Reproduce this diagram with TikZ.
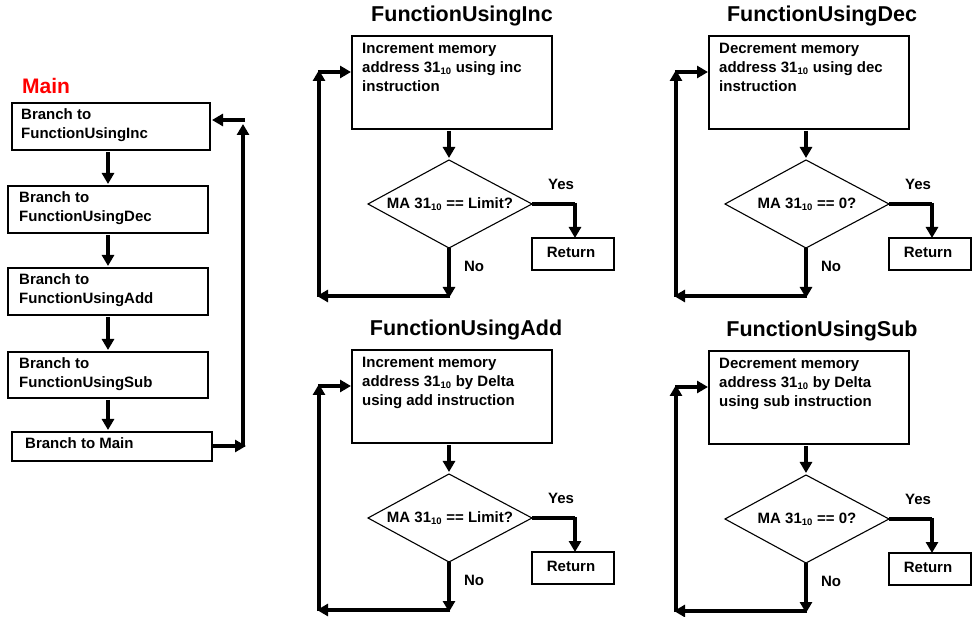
\documentclass[tikz,border=0pt]{standalone}
\usepackage{fontspec}
\setmainfont{Liberation Sans}
\usetikzlibrary{arrows.meta,shapes.geometric}
\begin{document}
\begin{tikzpicture}[x=1pt,y=-1pt,font=\bfseries\fontsize{15}{19}\selectfont,
  box/.style={draw,line width=1.1pt,inner sep=0pt},
  lbl/.style={anchor=north west,align=left,inner sep=0pt},
  arr/.style={line width=3.4pt,-{Triangle[length=11pt,width=12pt]}},
  ln/.style={line width=3.4pt},
  ttl/.style={font=\bfseries\fontsize{21.5}{24}\selectfont}]
\useasboundingbox (0,0) rectangle (975,617);
\newcommand{\ten}{\textsubscript{\fontsize{9.5}{9.5}\selectfont 10}}
% Main
\node[ttl,text=red,font=\bfseries\fontsize{21}{23}\selectfont] (mt) at (46,86) {Main};
\draw[box] (12,103) rectangle (210,150);
\node[lbl] (m1) at (21,108) {Branch to\\FunctionUsingInc};
\draw[box] (8,186) rectangle (208,233);
\node[lbl] (m2) at (19,191) {Branch to\\FunctionUsingDec};
\draw[box] (8,268) rectangle (208,315);
\node[lbl] (m3) at (19,273) {Branch to\\FunctionUsingAdd};
\draw[box] (8,352) rectangle (208,398);
\node[lbl] (m4) at (19,357) {Branch to\\FunctionUsingSub};
\draw[box] (12,432) rectangle (212,461);
\node[lbl] (m5) at (25,437) {Branch to Main};
\draw[arr] (108,152) -- (108,184);
\draw[arr] (108,235) -- (108,266);
\draw[arr] (108,317) -- (108,350);
\draw[arr] (108,400) -- (108,430);
\draw[arr] (212,446) -- (246,446);
\draw[arr] (243,447) -- (243,124);
\draw[ln] (245,120) -- (225,120);
\draw[arr] (230,120) -- (212,120);
% function blocks
\foreach \dx/\dy/\ttxt/\btxt/\dtxt/\tx in {
  0/0/FunctionUsingInc/{Increment memory\\address 31\ten{} using inc\\instruction}/{MA 31\ten{} == Limit?}/462,
  357/0/FunctionUsingDec/{Decrement memory\\address 31\ten{} using dec\\instruction}/{MA 31\ten{} == 0?}/465,
  0/314/FunctionUsingAdd/{Increment memory\\address 31\ten{} by Delta\\using add instruction}/{MA 31\ten{} == Limit?}/466,
  357/315/FunctionUsingSub/{Decrement memory\\address 31\ten{} by Delta\\using sub instruction}/{MA 31\ten{} == 0?}/465}{
  \begin{scope}[shift={(\dx,\dy)}]
  \node[ttl] (t) at (\tx,16) {\ttxt};
  \draw[box] (352,36) rectangle (552,129);
  \node[lbl] (b) at (362,43) {\btxt};
  \draw[line width=1.1pt] (368,204) -- (449,160) -- (532,204) -- (449,248) -- cycle;
  \node (d) at (450,204) {\dtxt};
  \draw[box] (532,238) rectangle (614,270);
  \node (r) at (571,252) {Return};
  \node (y) at (561,184) {Yes};
  \node (n) at (474,266) {No};
  \draw[arr] (449,131) -- (449,158);
  \draw[ln] (532,204) -- (575,204);
  \draw[arr] (575,203) -- (575,238);
  \draw[arr] (449,248) -- (449,298);
  \draw[arr] (450,296) -- (317,296);
  \draw[arr] (319,297) -- (319,70);
  \draw[arr] (318,72) -- (351,72);
  \end{scope}}
\end{tikzpicture}
\end{document}
